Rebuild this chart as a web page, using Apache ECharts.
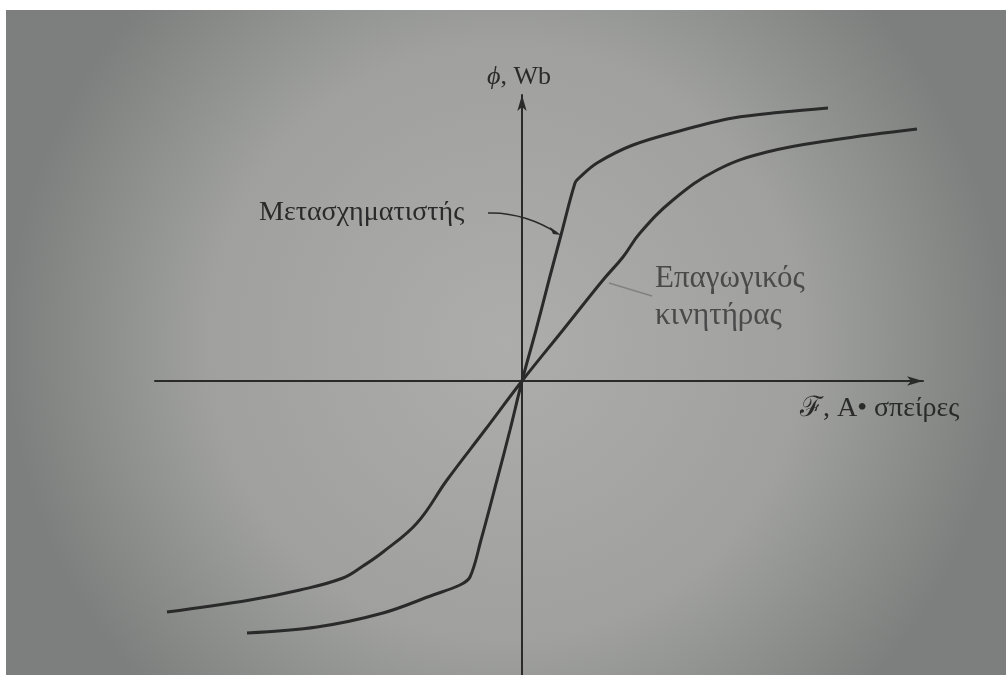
<!DOCTYPE html>
<html>
<head>
<meta charset="utf-8">
<title>Καμπύλες μαγνήτισης</title>
<script src="https://cdn.jsdelivr.net/npm/echarts@6/dist/echarts.min.js"></script>
<style>
  html, body { margin: 0; padding: 0; background: #ffffff; }
  #chart { width: 1006px; height: 675px; }
</style>
</head>
<body>
<div id="chart"></div>
<script>
// Magnetisation curves: flux φ (Wb) against magnetomotive force ℱ (A·turns), arbitrary units
const transformerF   = [-2.75, -2.05, -1.39, -0.89, -0.62, -0.52, -0.41, -0.25, -0.12, 0, 0.14, 0.27, 0.39, 0.53, 0.57, 0.75, 1.11, 1.61, 2.11, 2.61, 3.06];
const transformerPhi = [-2.52, -2.46, -2.32, -2.14, -2.04, -1.96, -1.59, -0.99, -0.49, 0, 0.51, 1.01, 1.46, 1.98, 2.03, 2.18, 2.36, 2.51, 2.63, 2.69, 2.73];

const motorF   = [-3.55, -2.72, -2.22, -1.79, -1.59, -1.39, -1.05, -0.75, -0.37, 0, 0.41, 0.81, 1.01, 1.18, 1.51, 1.95, 2.45, 3.11, 3.95];
const motorPhi = [-2.31, -2.19, -2.09, -1.97, -1.85, -1.71, -1.42, -0.99, -0.49, 0, 0.51, 1.01, 1.24, 1.48, 1.81, 2.11, 2.29, 2.41, 2.52];

const xRange = [-3.67, 4.01];
const yRange = [-2.94, 2.86];

const labels = {
  yAxis: '{i|ϕ}, Wb',
  xAxis: 'ℱ, A• σπείρες',
  transformer: 'Μετασχηματιστής',
  motorLine1: 'Επαγωγικός',
  motorLine2: 'κινητήρας'
};

const zip = (xs, ys) => xs.map((x, i) => [x, ys[i]]);

const ink = '#2a2a2a';
const serif = '"Liberation Serif", "DejaVu Serif", serif';

const chart = echarts.init(document.getElementById('chart'), null, { renderer: 'canvas' });

const option = {
  animation: false,
  backgroundColor: '#ffffff',
  grid: { left: 155, right: 83, top: 95, bottom: 0, containLabel: false },
  xAxis: {
    type: 'value', min: xRange[0], max: xRange[1],
    axisLine: { show: true, onZero: true, symbol: ['none', 'arrow'], symbolSize: [7, 16],
                lineStyle: { color: ink, width: 2 } },
    axisTick: { show: false }, axisLabel: { show: false }, splitLine: { show: false }
  },
  yAxis: {
    type: 'value', min: yRange[0], max: yRange[1],
    axisLine: { show: true, onZero: true, symbol: ['none', 'arrow'], symbolSize: [7, 16],
                lineStyle: { color: ink, width: 2 } },
    axisTick: { show: false }, axisLabel: { show: false }, splitLine: { show: false }
  },
  series: [
    {
      name: labels.transformer, type: 'line', data: zip(transformerF, transformerPhi),
      showSymbol: false, smooth: 0.35,
      lineStyle: { color: ink, width: 3 }
    },
    {
      name: labels.motorLine1 + ' ' + labels.motorLine2, type: 'line', data: zip(motorF, motorPhi),
      showSymbol: false, smooth: 0.4,
      lineStyle: { color: ink, width: 3 }
    }
  ]
};
chart.setOption(option);

// Paper background, annotations and leader lines
const tip = chart.convertToPixel({ gridIndex: 0 }, [transformerF[12], transformerPhi[12]]);
const motorPt = chart.convertToPixel({ gridIndex: 0 }, [motorF[11], motorPhi[11]]);
const start = [488, 213];

chart.setOption({
  graphic: [
    {
      type: 'rect', z: -10, silent: true,
      shape: { x: 6, y: 10, width: 1000, height: 665 },
      style: {
        fill: new echarts.graphic.RadialGradient(0.5, 0.5, 0.75, [
          { offset: 0, color: '#adaeac' },
          { offset: 0.6, color: '#a0a19f' },
          { offset: 1, color: '#7c7f7d' }
        ])
      }
    },
    {
      type: 'text', z: 10,
      style: { text: labels.yAxis, x: 487, y: 77, font: '26px ' + serif, fill: ink,
               textVerticalAlign: 'middle',
               rich: { i: { fontStyle: 'italic', fontSize: 26, fontFamily: serif, fill: ink } } }
    },
    {
      type: 'text', z: 10,
      style: { text: labels.xAxis, x: 800, y: 409, font: '28px ' + serif, fill: ink,
               textVerticalAlign: 'middle' }
    },
    {
      type: 'text', z: 10,
      style: { text: labels.transformer, x: 259, y: 213, font: '28px ' + serif, fill: ink,
               textVerticalAlign: 'middle' }
    },
    {
      type: 'text', z: 10,
      style: { text: labels.motorLine1, x: 655, y: 279, font: '31px ' + serif, fill: '#4a4a4a',
               textVerticalAlign: 'middle' }
    },
    {
      type: 'text', z: 10,
      style: { text: labels.motorLine2, x: 655, y: 316, font: '31px ' + serif, fill: '#4a4a4a',
               textVerticalAlign: 'middle' }
    },
    {
      type: 'bezierCurve', z: 10, silent: true,
      shape: { x1: start[0], y1: start[1], cpx1: 515, cpy1: 212, cpx2: 540, cpy2: 222,
               x2: tip[0] - 4, y2: tip[1] - 2 },
      style: { stroke: ink, lineWidth: 1.6, fill: null }
    },
    {
      type: 'polygon', z: 10, silent: true,
      shape: { points: [[tip[0], tip[1]], [tip[0] - 11, tip[1] - 8], [tip[0] - 8, tip[1] - 1]] },
      style: { fill: ink }
    },
    {
      type: 'line', z: 10, silent: true,
      shape: { x1: motorPt[0] + 6, y1: motorPt[1] + 3, x2: 652, y2: 296 },
      style: { stroke: 'rgba(60,60,60,0.35)', lineWidth: 1.5 }
    }
  ]
});
</script>
</body>
</html>
